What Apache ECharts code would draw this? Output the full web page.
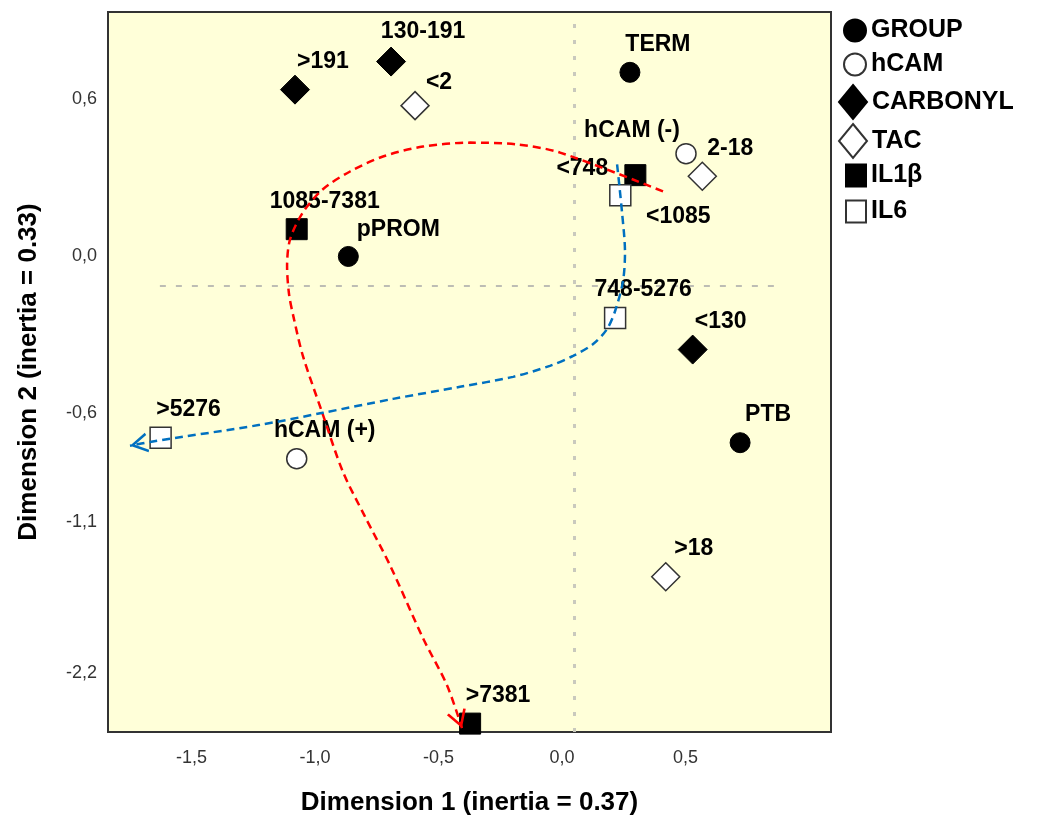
<!DOCTYPE html>
<html>
<head>
<meta charset="utf-8">
<script src="https://cdn.jsdelivr.net/npm/echarts@6/dist/echarts.min.js"></script>
<style>
  html, body { margin: 0; padding: 0; background: #fff; }
  #chart { width: 1041px; height: 821px; }
</style>
</head>
<body>
<div id="chart"></div>
<script>
// category points
var groupNames = ['TERM', 'pPROM', 'PTB'];
var groupX = [0.275, -0.865, 0.721];
var groupY = [0.700, -0.002, -0.712];

var hcamNames = ['hCAM (-)', 'hCAM (+)'];
var hcamX = [0.502, -1.074];
var hcamY = [0.390, -0.773];

var carbonylNames = ['>191', '130-191', '<130'];
var carbonylX = [-1.081, -0.692, 0.529];
var carbonylY = [0.634, 0.741, -0.357];

var tacNames = ['<2', '2-18', '>18'];
var tacX = [-0.595, 0.568, 0.420];
var tacY = [0.573, 0.304, -1.223];

var il1bNames = ['<1085', '1085-7381', '>7381'];
var il1bX = [0.297, -1.074, -0.372];
var il1bY = [0.308, 0.102, -1.783];

var il6Names = ['<748', '748-5276', '>5276'];
var il6X = [0.236, 0.215, -1.625];
var il6Y = [0.231, -0.237, -0.693];

// hand drawn arrows
var redX = [0.409, -0.008, -0.182, -0.372, -0.563, -0.725, -0.858, -0.968, -1.049, -1.101, -1.113, -1.105, -1.085, -1.049, -0.972, -0.887, -0.798, -0.696, -0.563, -0.466, -0.405];
var redY = [0.246, 0.394, 0.425, 0.432, 0.417, 0.379, 0.322, 0.254, 0.166, 0.063, -0.039, -0.146, -0.241, -0.381, -0.594, -0.823, -0.993, -1.180, -1.457, -1.636, -1.800];
var blueX = [0.223, 0.243, 0.255, 0.247, 0.215, 0.182, 0.126, 0.045, -0.049, -0.198, -0.413, -0.684, -0.968, -1.223, -1.668, -1.749];
var blueY = [0.349, 0.166, 0.014, -0.096, -0.210, -0.279, -0.336, -0.381, -0.419, -0.461, -0.499, -0.545, -0.598, -0.644, -0.709, -0.724];

// reference lines
var refX = 0.053;
var refY = -0.112;
var refYFrom = -1.628;
var refYTo = 0.883;

// tick labels
var xTicks = [-1.5, -1.0, -0.5, 0, 0.5];
var xTickLabels = ['-1,5', '-1,0', '-0,5', '0,0', '0,5'];
var yTicks = [0.6, 0, -0.6, -1.013, -1.59];
var yTickLabels = ['0,6', '0,0', '-0,6', '-1,1', '-2,2'];

var labelShift = {
  'pPROM': [50, -27],
  'hCAM (-)': [-54, -23],
  '<1085': [43, 42],
  '<748': [-38, -27],
  '<2': [24, -23],
  '130-191': [32, -30]
};

var sansFont = "'Liberation Sans', Arial, sans-serif";
var arrowPath = 'path://M10,0 L20,17 L17.6,18 L10,5 L2.4,18 L0,17 Z';

function pts(xs, ys, names) {
  return xs.map(function (x, i) {
    return {
      name: names[i],
      value: [x, ys[i]],
      label: { offset: labelShift[names[i]] || [28, -28] }
    };
  });
}

function pairs(xs, ys) {
  return xs.map(function (x, i) { return [x, ys[i]]; });
}

function scatter(name, xs, ys, names, symbol, size, filled) {
  return {
    name: name,
    type: 'scatter',
    symbol: symbol,
    symbolSize: size,
    z: 3,
    itemStyle: filled
      ? { color: '#000', borderColor: '#000', borderWidth: 1, opacity: 1 }
      : { color: '#fff', borderColor: '#333', borderWidth: 1.5, opacity: 1 },
    label: {
      show: true,
      position: 'inside',
      formatter: '{b}',
      color: '#000',
      opacity: 1,
      fontFamily: sansFont,
      fontWeight: 'bold',
      fontSize: 23
    },
    data: pts(xs, ys, names)
  };
}

function arrowLine(xs, ys, color) {
  var p = pairs(xs, ys);
  var n = p.length;
  return {
    type: 'line',
    data: p,
    smooth: 0.3,
    showSymbol: false,
    silent: true,
    z: 5,
    lineStyle: { color: color, width: 2.5, type: [8, 5] },
    markLine: {
      silent: true,
      symbol: ['none', arrowPath],
      symbolSize: [20, 18],
      symbolOffset: [0, [0, 9]],
      label: { show: false },
      lineStyle: { color: color, width: 0, type: 'solid' },
      data: [[{ coord: p[n - 2] }, { coord: p[n - 1] }]]
    }
  };
}

var chart = echarts.init(document.getElementById('chart'));

var legendText = { fontSize: 25, fontWeight: 'bold', fontFamily: sansFont, color: '#000', lineHeight: 22 };

var option = {
  animation: false,
  backgroundColor: '#fff',
  grid: {
    left: 108, right: 210, top: 12, bottom: 87,
    show: true,
    backgroundColor: '#ffffd9',
    borderColor: '#333',
    borderWidth: 2
  },
  legend: [
    {
      data: ['GROUP', 'hCAM'], orient: 'vertical', left: 843, top: 18,
      itemWidth: 22, itemHeight: 22, itemGap: 9, padding: 0,
      selectedMode: false, textStyle: legendText
    },
    {
      data: ['CARBONYL', 'TAC'], orient: 'vertical', left: 838, top: 84,
      itemWidth: 28, itemHeight: 34, itemGap: 3, padding: 0,
      selectedMode: false, textStyle: legendText
    },
    {
      data: ['IL1β', 'IL6'], orient: 'vertical', left: 845, top: 163,
      itemWidth: 20, itemHeight: 22, itemGap: 11, padding: 0,
      selectedMode: false, textStyle: legendText
    }
  ],
  xAxis: {
    type: 'value',
    min: -1.838, max: 1.089,
    name: 'Dimension 1 (inertia = 0.37)',
    nameLocation: 'middle',
    nameGap: 58,
    nameTextStyle: { fontSize: 26, fontWeight: 'bold', color: '#000', fontFamily: sansFont },
    splitLine: { show: false },
    axisLine: { show: false },
    axisTick: { show: false },
    axisLabel: {
      customValues: xTicks,
      margin: 17,
      fontSize: 18,
      color: '#333',
      fontFamily: sansFont,
      formatter: function (v) { return xTickLabels[xTicks.indexOf(v)]; }
    }
  },
  yAxis: {
    type: 'value',
    min: -1.815, max: 0.930,
    name: 'Dimension 2 (inertia = 0.33)',
    nameLocation: 'middle',
    nameGap: 66,
    nameTextStyle: { fontSize: 26, fontWeight: 'bold', color: '#000', fontFamily: sansFont },
    splitLine: { show: false },
    axisLine: { show: false },
    axisTick: { show: false },
    axisLabel: {
      customValues: yTicks,
      margin: 11,
      fontSize: 18,
      color: '#333',
      fontFamily: sansFont,
      formatter: function (v) { return yTickLabels[yTicks.indexOf(v)]; }
    }
  },
  series: [
    (function () {
      var s = scatter('GROUP', groupX, groupY, groupNames, 'circle', 20, true);
      s.markLine = {
        silent: true,
        symbol: ['none', 'none'],
        label: { show: false },
        z: 1,
        data: [
          { xAxis: refX, lineStyle: { color: '#c9c9bd', width: 3, type: [4, 12] } },
          [
            { coord: [refYFrom, refY], lineStyle: { color: '#a8a8a8', width: 1.5, type: [6, 10] } },
            { coord: [refYTo, refY] }
          ]
        ]
      };
      return s;
    })(),
    scatter('hCAM', hcamX, hcamY, hcamNames, 'circle', 20, false),
    scatter('CARBONYL', carbonylX, carbonylY, carbonylNames, 'diamond', 29, true),
    scatter('TAC', tacX, tacY, tacNames, 'diamond', 28, false),
    scatter('IL1β', il1bX, il1bY, il1bNames, 'rect', 21, true),
    scatter('IL6', il6X, il6Y, il6Names, 'rect', 21, false),
    arrowLine(redX, redY, '#ff0000'),
    arrowLine(blueX, blueY, '#0070c0')
  ]
};

chart.setOption(option);
</script>
</body>
</html>
